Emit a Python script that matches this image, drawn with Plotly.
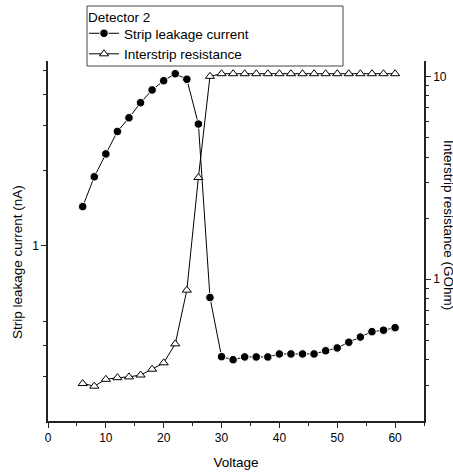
import math
import plotly.graph_objects as go

voltage = [6, 8, 10, 12, 14, 16, 18, 20, 22, 24, 26, 28, 30, 32, 34, 36, 38, 40,
           42, 44, 46, 48, 50, 52, 54, 56, 58, 60]
leakage_current = [1.43, 1.88, 2.32, 2.85, 3.23, 3.71, 4.17, 4.54, 4.84, 4.60, 3.05, 0.621,
                   0.361, 0.351, 0.360, 0.360, 0.360, 0.370, 0.370, 0.370, 0.370, 0.381,
                   0.391, 0.412, 0.432, 0.454, 0.460, 0.471]
interstrip_resistance = [0.306, 0.297, 0.321, 0.327, 0.330, 0.337, 0.360, 0.387, 0.480,
                         0.883, 3.17, 10.0, 10.3, 10.3, 10.3, 10.3, 10.3, 10.3, 10.3,
                         10.3, 10.3, 10.3, 10.3, 10.3, 10.3, 10.3, 10.3, 10.3]

x_ticks = [0, 10, 20, 30, 40, 50, 60]
left_ticks = [1]
left_minor = [0.3, 0.4, 0.5, 2, 3, 4, 5]
right_ticks = [1, 10]
right_minor = [0.3, 0.4, 0.5, 0.6, 0.7, 0.8, 0.9, 2, 3, 4, 5, 6, 7, 8, 9]

FONT = "Arial, Liberation Sans, sans-serif"
AX = "#222222"
TFS = 13.5

fig = go.Figure()
fig.add_trace(go.Scatter(
    x=voltage, y=leakage_current, name="Strip leakage current",
    mode="lines+markers",
    line=dict(color="black", width=1),
    marker=dict(symbol="circle", size=8.5, color="black", line=dict(color="white", width=1)),
))
fig.add_trace(go.Scatter(
    x=voltage, y=interstrip_resistance, name="Interstrip resistance",
    mode="lines+markers", yaxis="y2",
    line=dict(color="black", width=1),
    marker=dict(symbol="triangle-up", size=8, color="white", line=dict(color="black", width=1)),
))

W, H = 453, 473
L, R, T, B = 48, 424, 61, 421
PW, PH = R - L, B - T


def px(xp):
    return (xp - L) / PW


def py(yp):
    return (B - yp) / PH


fig.update_layout(
    width=W, height=H,
    margin=dict(l=L, r=W - R, t=T, b=H - B, pad=0, autoexpand=False),
    paper_bgcolor="white", plot_bgcolor="white",
    font=dict(family=FONT, size=12, color="black"),
    showlegend=True,
    legend=dict(
        x=px(84), y=py(18), xanchor="left", yanchor="top",
        borderwidth=0, bgcolor="rgba(0,0,0,0)",
        font=dict(size=TFS), itemwidth=30, tracegroupgap=0,
    ),
    shapes=[
        dict(type="rect", xref="paper", yref="paper", x0=px(87), x1=px(343),
             y0=py(66), y1=py(6), line=dict(color="#444444", width=1),
             fillcolor="white", layer="below"),
    ],
    xaxis=dict(
        range=[0, 65], tickvals=x_ticks, ticks="outside", ticklen=5, tickwidth=1,
        tickcolor=AX, showline=True, linecolor=AX, linewidth=1.5, showgrid=False,
        zeroline=False, tickfont=dict(size=12), automargin=False,
        minor=dict(dtick=5, tick0=5, ticks="outside", ticklen=3, tickcolor=AX, showgrid=False),
        title=dict(text="Voltage", font=dict(size=TFS), standoff=13),
    ),
    yaxis=dict(
        type="log", range=[math.log10(0.2), math.log10(5.44)],
        tickmode="array", tickvals=left_ticks, ticktext=["1"], automargin=False,
        ticks="outside", ticklen=5, tickcolor=AX, showline=True, linecolor=AX,
        linewidth=1.5, showgrid=False, zeroline=False,
        minor=dict(tickmode="array", tickvals=left_minor, ticks="outside", ticklen=3,
                   tickcolor=AX, showgrid=False),
    ),
    yaxis2=dict(
        type="log", range=[math.log10(0.2), math.log10(11.9)], overlaying="y", side="right",
        tickmode="array", tickvals=right_ticks, ticktext=["1", "10"], automargin=False,
        ticks="outside", ticklen=5, tickcolor=AX, showline=True, linecolor=AX,
        linewidth=1.5, showgrid=False, zeroline=False,
        minor=dict(tickmode="array", tickvals=right_minor, ticks="outside", ticklen=3,
                   tickcolor=AX, showgrid=False),
    ),
    annotations=[
        dict(text="Detector 2", xref="paper", yref="paper", x=px(86), y=py(18),
             showarrow=False, font=dict(size=TFS), xanchor="left", yanchor="middle"),
        dict(text="Strip leakage current (nA)", xref="paper", yref="paper",
             x=px(17), y=py(262), textangle=-90,
             showarrow=False, font=dict(size=TFS), xanchor="center", yanchor="middle"),
        dict(text="Interstrip resistance (GOhm)", xref="paper", yref="paper",
             x=px(449), y=py(225), textangle=90,
             showarrow=False, font=dict(size=TFS), xanchor="center", yanchor="middle"),
    ],
)

fig.write_html("out.html", config={"displayModeBar": False},
               post_script="document.body.style.margin='0';document.body.style.padding='0';")
